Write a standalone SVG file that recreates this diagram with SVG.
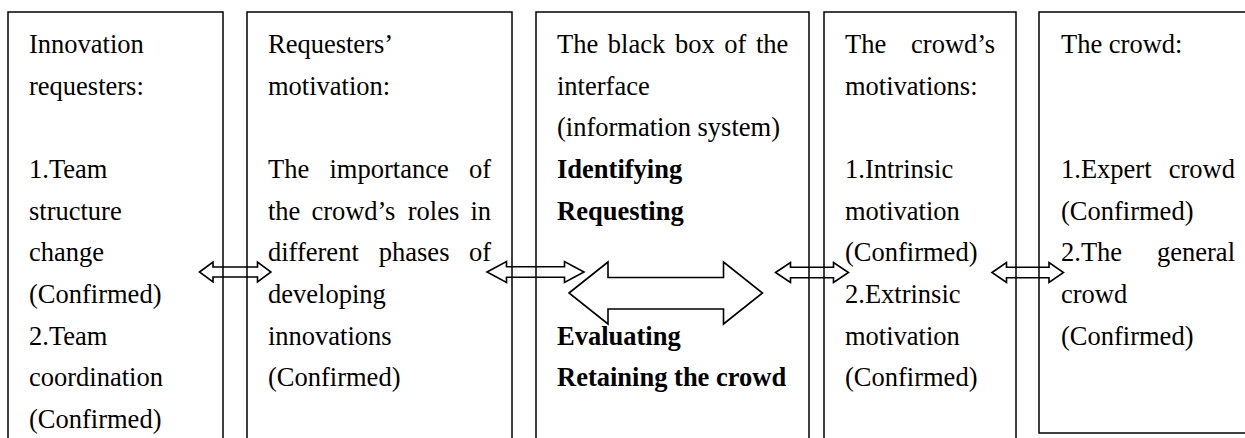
<svg xmlns="http://www.w3.org/2000/svg" width="1245" height="438" viewBox="0 0 1245 438">
  <style>
    .box{fill:none;stroke:#000;stroke-width:1.5}
    .t{font-family:"Liberation Serif","Times New Roman",serif;font-size:26.5px;fill:#000}
    .b{font-weight:bold}
    .e{text-anchor:end}
    .arr{fill:none;stroke:#000;stroke-width:1.6;stroke-linejoin:miter}
  </style>
  <rect width="1245" height="438" fill="#fff"/>

  <!-- Innovation requesters -->
  <g id="requesters">
    <rect class="box" x="8" y="12" width="215" height="440"/>
    <text class="t" x="29" y="53">Innovation</text>
    <text class="t" x="29" y="94.7">requesters:</text>
    <text class="t" x="29" y="178">1.Team</text>
    <text class="t" x="29" y="219.7">structure</text>
    <text class="t" x="29" y="261.3">change</text>
    <text class="t" x="29" y="303">(Confirmed)</text>
    <text class="t" x="29" y="344.7">2.Team</text>
    <text class="t" x="29" y="386.3">coordination</text>
    <text class="t" x="29" y="428">(Confirmed)</text>
  </g>

  <!-- Requesters' motivation -->
  <g id="requester-motivation">
    <rect class="box" x="247" y="12" width="265" height="440"/>
    <text class="t" x="268" y="53">Requesters’</text>
    <text class="t" x="268" y="94.7">motivation:</text>
    <text class="t" x="268" y="178">The</text>
    <text class="t" x="329.5" y="178">importance</text>
    <text class="t e" x="491" y="178">of</text>
    <text class="t" x="268" y="219.7">the</text>
    <text class="t" x="311.4" y="219.7">crowd’s</text>
    <text class="t" x="407.8" y="219.7">roles</text>
    <text class="t e" x="491" y="219.7">in</text>
    <text class="t" x="268" y="261.3">different</text>
    <text class="t" x="378.8" y="261.3">phases</text>
    <text class="t e" x="491" y="261.3">of</text>
    <text class="t" x="268" y="303">developing</text>
    <text class="t" x="268" y="344.7">innovations</text>
    <text class="t" x="268" y="386.3">(Confirmed)</text>
  </g>

  <!-- Interface black box -->
  <g id="interface">
    <rect class="box" x="536" y="12" width="273" height="440"/>
    <text class="t" x="557" y="53">The</text>
    <text class="t" x="607.8" y="53">black</text>
    <text class="t" x="674.9" y="53">box</text>
    <text class="t" x="724.2" y="53">of</text>
    <text class="t e" x="788.3" y="53">the</text>
    <text class="t" x="557" y="94.7">interface</text>
    <text class="t" x="557" y="136.3">(information system)</text>
    <text class="t b" x="557" y="178">Identifying</text>
    <text class="t b" x="557" y="219.7">Requesting</text>
    <text class="t b" x="557" y="344.7">Evaluating</text>
    <text class="t b" x="557" y="386.3">Retaining the crowd</text>
  </g>

  <!-- Crowd motivations -->
  <g id="crowd-motivation">
    <rect class="box" x="824" y="12" width="192" height="440"/>
    <text class="t" x="845" y="53">The</text>
    <text class="t e" x="995" y="53">crowd’s</text>
    <text class="t" x="845" y="94.7">motivations:</text>
    <text class="t" x="845" y="178">1.Intrinsic</text>
    <text class="t" x="845" y="219.7">motivation</text>
    <text class="t" x="845" y="261.3">(Confirmed)</text>
    <text class="t" x="845" y="303">2.Extrinsic</text>
    <text class="t" x="845" y="344.7">motivation</text>
    <text class="t" x="845" y="386.3">(Confirmed)</text>
  </g>

  <!-- The crowd -->
  <g id="crowd">
    <rect class="box" x="1039" y="12" width="260" height="421"/>
    <text class="t" x="1061" y="53">The crowd:</text>
    <text class="t" x="1061" y="178">1.Expert</text>
    <text class="t e" x="1235" y="178">crowd</text>
    <text class="t" x="1061" y="219.7">(Confirmed)</text>
    <text class="t" x="1061" y="261.3">2.The</text>
    <text class="t e" x="1235" y="261.3">general</text>
    <text class="t" x="1061" y="303">crowd</text>
    <text class="t" x="1061" y="344.7">(Confirmed)</text>
  </g>

  <!-- Two-headed block arrows -->
  <g id="connectors">
    <path class="arr" d="M199.5,272 L213,262 L213,267 L257.5,267 L257.5,262 L271,272 L257.5,282 L257.5,277 L213,277 L213,282 Z"/>
    <path class="arr" d="M487,272 L506.5,261.5 L506.5,266.7 L564.5,266.7 L564.5,261.5 L584,272 L564.5,282.5 L564.5,277.3 L506.5,277.3 L506.5,282.5 Z"/>
    <path class="arr" d="M569,293 L608,262 L608,277.5 L723.5,277.5 L723.5,262 L762.5,293 L723.5,324 L723.5,309 L608,309 L608,324 Z"/>
    <path class="arr" d="M775.5,272.5 L790.5,262.5 L790.5,267.2 L833.5,267.2 L833.5,262.5 L848.5,272.5 L833.5,282.5 L833.5,277.8 L790.5,277.8 L790.5,282.5 Z"/>
    <path class="arr" d="M992,272.5 L1006.5,262.5 L1006.5,267.2 L1049,267.2 L1049,262.5 L1063.5,272.5 L1049,282.5 L1049,277.8 L1006.5,277.8 L1006.5,282.5 Z"/>
  </g>
</svg>
